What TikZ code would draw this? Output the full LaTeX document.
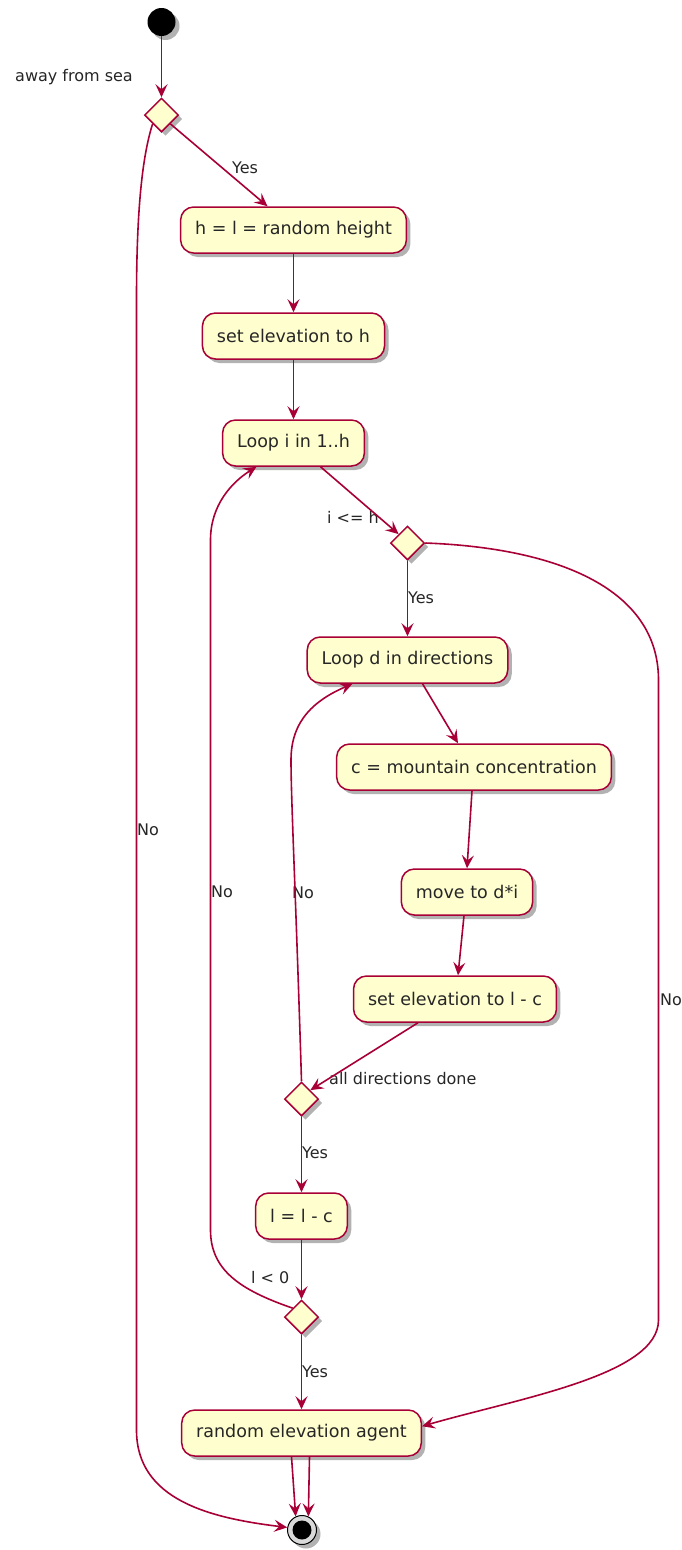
\documentclass[tikz,border=0pt]{standalone}
\usepackage{fontspec}
\setmainfont{DejaVu Sans}
\usetikzlibrary{arrows.meta,shapes.geometric,shadows}
\definecolor{pumlred}{HTML}{A80036}
\definecolor{pumlfill}{HTML}{FEFECE}
\newcommand{\actfont}{\fontsize{17.5}{21}\selectfont}
\newcommand{\lblfont}{\fontsize{16}{19}\selectfont}
\tikzset{
  shd/.style={drop shadow={shadow xshift=4pt, shadow yshift=-4pt, fill=black, opacity=0.3}},
  act/.style={rectangle, rounded corners=13pt, draw=pumlred, fill=pumlfill, line width=1.5pt,
    minimum height=46pt, inner xsep=14.5pt, inner ysep=0pt, font=\actfont, text=black!85, shd},
  dec/.style={diamond, aspect=1, draw=pumlred, fill=pumlfill, line width=1.5pt,
    minimum size=34pt, inner sep=0pt, shd},
  flow/.style={draw=pumlred, line width=1.6pt, -{Stealth[length=13pt,width=12pt,inset=5pt]}},
  lbl/.style={font=\lblfont, inner sep=0pt, anchor=west, text=black!85}
}
\begin{document}
\begin{tikzpicture}[x=1pt,y=-1pt]
\useasboundingbox[fill=white] (0,0) rectangle (681,1550);

% nodes
\node[circle, fill=black, minimum size=28pt, inner sep=0pt, shd] (st) at (161.5,22) {};
\node[dec] (d1) at (161.5,115) {};
\node[act] (b1) at (293.5,230) {h = l = random height};
\node[act] (b2) at (293.5,336) {set elevation to h};
\node[act] (b3) at (293.5,443) {Loop i in 1..h};
\node[dec] (d2) at (407.5,543) {};
\node[act] (b4) at (407.5,660) {Loop d in directions};
\node[act] (b5) at (474,767) {c = mountain concentration};
\node[act] (b6) at (467,892) {move to d*i};
\node[act] (b7) at (455,999) {set elevation to l - c};
\node[dec] (d3) at (301.5,1099) {};
\node[act] (b8) at (301.5,1216) {l = l - c};
\node[dec] (d4) at (301.5,1317) {};
\node[act] (b9) at (301.5,1433) {random elevation agent};
\node[circle, draw=black, fill=black!15, line width=1pt, minimum size=29pt, inner sep=0pt, shd,
  path picture={\fill[black] (path picture bounding box.center) circle (9.5pt);}] (en) at (302,1530) {};

% labels
\node[lbl, anchor=east] (l1) at (133,77) {away from sea};
\node[lbl] (l2) at (232,168) {Yes};
\node[lbl] (l3) at (137,830) {No};
\node[lbl] (l4) at (327,517) {i <= h};
\node[lbl] (l5) at (408,598) {Yes};
\node[lbl] (l6) at (660,1000) {No};
\node[lbl] (l7) at (292,893) {No};
\node[lbl] (l8) at (211,892) {No};
\node[lbl] (l9) at (329,1079) {all directions done};
\node[lbl] (l10) at (302,1153) {Yes};
\node[lbl] (l11) at (251,1278) {l < 0};
\node[lbl] (l12) at (302,1372) {Yes};

% connectors
\draw[flow] (st.south) -- (d1.north);
\draw[flow] (d1.south east) -- ([xshift=-26pt]b1.north);
\draw[flow] (b1.south) -- (b2.north);
\draw[flow] (b2.south) -- (b3.north);
\draw[flow] ([xshift=27pt]b3.south) -- (d2.north west);
\draw[flow] (d2.south) -- (b4.north);
\draw[flow] ([xshift=15pt]b4.south) -- ([xshift=-16pt]b5.north);
\draw[flow] ([xshift=-2pt]b5.south) -- (b6.north);
\draw[flow] ([xshift=-3pt]b6.south) -- ([xshift=3pt]b7.north);
\draw[flow] ([xshift=-37pt]b7.south) -- (d3.north east);
\draw[flow] (d3.south) -- (b8.north);
\draw[flow] (b8.south) -- (d4.north);
\draw[flow] (d4.south) -- (b9.north);
\draw[flow] ([xshift=-10pt]b9.south) -- (en.115);
\draw[flow] ([xshift=8pt]b9.south) -- (en.65);
% loops
\draw[flow] (d3.north) .. controls (296,900) and (291,800) .. (291,760)
  .. controls (291,720) and (315,700) .. ([xshift=-55pt]b4.south);
\draw[flow] (d4.north west) .. controls (240,1290) and (210.5,1270) .. (210.5,1230)
  -- (210.5,540) .. controls (210.5,505) and (232,482) .. ([xshift=-37pt]b3.south);
\draw[flow] (d2.east) .. controls (560,548) and (658.5,590) .. (658.5,680)
  -- (658.5,1320) .. controls (658.5,1375) and (520,1398) .. ([yshift=-17pt]b9.north east);
\draw[flow] (d1.south west) .. controls (141,160) and (136.5,220) .. (136.5,300)
  -- (136.5,1430) .. controls (136.5,1500) and (210,1518) .. (en.170);
\end{tikzpicture}
\end{document}
